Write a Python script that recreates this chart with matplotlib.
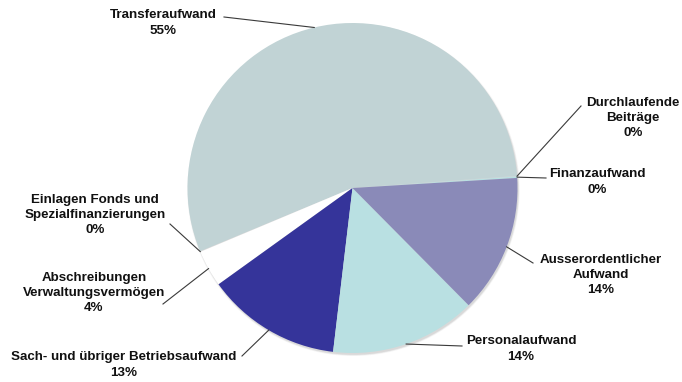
import matplotlib.pyplot as plt
from matplotlib.patches import Circle
import numpy as np

plt.rcParams['font.family'] = ['Liberation Sans', 'DejaVu Sans']

# Aufwand nach Sachgruppen (Anteile in %)
categories = [
    "Finanzaufwand",
    "Durchlaufende\nBeiträge",
    "Transferaufwand",
    "Einlagen Fonds und\nSpezialfinanzierungen",
    "Abschreibungen\nVerwaltungsvermögen",
    "Sach- und übriger Betriebsaufwand",
    "Personalaufwand",
    "Ausserordentlicher\nAufwand",
]
shares = [0.15, 0.05, 55.1, 0.05, 3.6, 13.2, 14.3, 13.55]
colors = ["#b8e0e2", "#c8dadc", "#c1d3d5", "#d9d9d9",
          "#ffffff", "#35349a", "#b9e0e2", "#8a8ab8"]

# label anchor (text centre) and leader start, in pixel coords (y down)
label_xy = [(597, 182), (633, 118), (163, 23), (95, 215),
            (94, 293), (124, 365), (521, 349), (601, 275)]
leader_xy = [(546, 178), (581, 106), (224, 17), (170, 224),
             (163, 304), (242, 356), (462, 346), (533, 263)]

W, H = 682, 382
cx, cy, r = 352.5, 188.0, 165.0

fig = plt.figure(figsize=(W / 100, H / 100), dpi=100)
ax = fig.add_axes([0, 0, 1, 1])


def to_data(x, y):
    return x, H - y


# soft drop shadow under the pie
for k, a in enumerate([0.07, 0.10, 0.14]):
    ax.add_patch(Circle(to_data(cx + 1.0, cy + 1.8), r + 1.2 - k * 0.6,
                        color="#7f7f7f", alpha=a, lw=0, zorder=0))

wedges, _ = ax.pie(shares, colors=colors, startangle=3.5, counterclock=True,
                   radius=r, center=to_data(cx, cy),
                   wedgeprops=dict(linewidth=0, zorder=1), frame=True)

for w, name, val, (tx, ty), (lx, ly) in zip(wedges, categories, shares,
                                            label_xy, leader_xy):
    mid = np.deg2rad((w.theta1 + w.theta2) / 2)
    ex = cx + r * np.cos(mid)
    ey = cy - r * np.sin(mid)
    ax.plot([lx, ex], [H - ly, H - ey], color="#3a3a3a", lw=0.8, zorder=3)
    ax.text(*to_data(tx, ty), f"{name}\n{val:.0f}%", ha="center", va="center",
            fontsize=9.6, fontweight="bold", color="#111111", linespacing=1.36,
            zorder=4)

ax.set_xlim(0, W)
ax.set_ylim(0, H)
ax.set_aspect("equal")
ax.axis("off")

fig.savefig("out.png", dpi=100, facecolor="white")
